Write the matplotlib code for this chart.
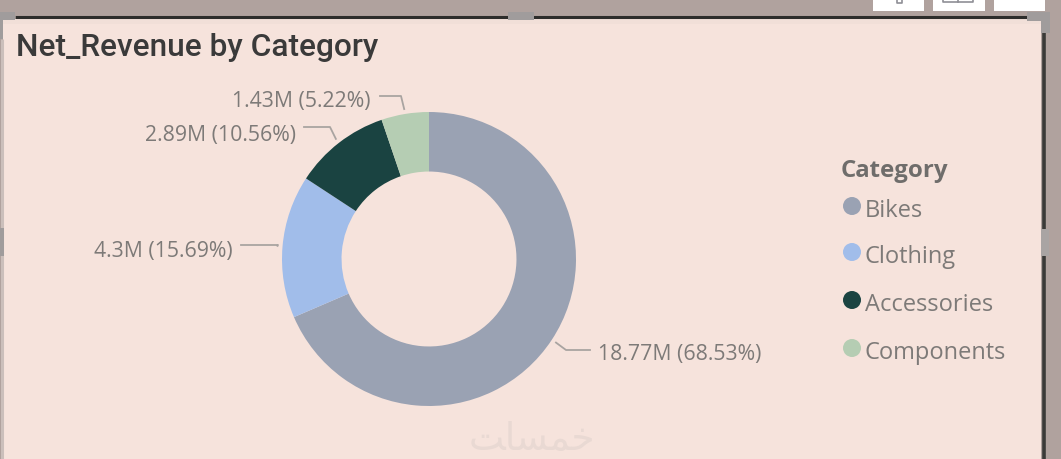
import numpy as np
import matplotlib
matplotlib.use("Agg")
import matplotlib.pyplot as plt
from matplotlib.patches import Rectangle, Circle

categories = ["Bikes", "Clothing", "Accessories", "Components"]
revenue = [18.77, 4.30, 2.89, 1.43]
labels = ["18.77M (68.53%)", "4.3M (15.69%)", "2.89M (10.56%)", "1.43M (5.22%)"]
colors = ["#9aa2b3", "#a1bdea", "#1a4341", "#b5cdb3"]
title = "Net_Revenue by Category"
legend_title = "Category"
watermark = "\uFE96\uFE8E\uFEB4\uFEE4\uFEA7"

W, H = 1061, 460
fig = plt.figure(figsize=(W / 100, H / 100), dpi=100, facecolor="#b0a29e")

bg = fig.add_axes([0, 0, 1, 1])
bg.set_xlim(0, W)
bg.set_ylim(H, 0)
bg.axis("off")
grey = "#a09c9c"
bg.add_patch(Rectangle((3, 17), 1038, 443, fc="#f6e3dc", ec="none", zorder=1))
bg.add_patch(Rectangle((3, 19), 1038, 6, fc="#f1dfd8", ec="none", zorder=1.1))
bg.plot([15, 1027], [17.5, 17.5], color="#2d2d2b", lw=2.2, zorder=2, solid_capstyle="butt")
bg.plot([1043.5, 1043.5], [34, 460], color="#3a3a38", lw=2.6, zorder=2, solid_capstyle="butt")
bg.plot([1.5, 1.5], [40, 460], color="#cbbfbb", lw=2.2, zorder=2, solid_capstyle="butt")
# corner and edge handles of the selected visual
bg.add_patch(Rectangle((1027, 13), 23, 9, fc=grey, ec="none", zorder=3))
bg.add_patch(Rectangle((1041, 13), 9, 21, fc=grey, ec="none", zorder=3))
bg.add_patch(Rectangle((0, 13), 15, 8, fc=grey, ec="none", zorder=3))
bg.add_patch(Rectangle((0, 13), 3, 27, fc=grey, ec="none", zorder=3))
bg.add_patch(Rectangle((1041, 230), 8, 27, fc="#a9a4a3", ec="none", zorder=3))
bg.add_patch(Rectangle((508, 13), 26, 8, fc=grey, ec="none", zorder=3))
bg.add_patch(Rectangle((0, 229), 4, 28, fc=grey, ec="none", zorder=3))
for x0, x1 in [(873, 924), (933, 985), (994, 1045)]:
    bg.add_patch(Rectangle((x0, -2), x1 - x0, 14, fc="white", ec="none", zorder=3))
bg.plot([897, 897, 902, 902], [0, 4, 4, 0], color="#8f8f96", lw=1.2, zorder=4)
bg.plot([943, 943, 973, 973, 943], [0, 3, 3, 0, 0], color="#8f8f96", lw=1.2, zorder=4)
bg.plot([958, 958], [0, 3], color="#8f8f96", lw=1.2, zorder=4)

bg.text(16.5, 47, title, fontsize=22.8, family="Roboto", fontweight="medium",
        color="#3a3a3a", va="center", ha="left", zorder=5)
bg.text(595, 440, watermark, fontsize=27, family="DejaVu Sans", color="#e9d9d3",
        va="center", ha="right", zorder=5)

cx, cy, R = 429, 260, 147
ax = fig.add_axes([(cx - R) / W, 1 - (cy + R) / H, 2 * R / W, 2 * R / H])
ax.pie(revenue, colors=colors, startangle=90, counterclock=False, radius=1,
       wedgeprops=dict(width=0.405, linewidth=0), normalize=True)
ax.set_xlim(-1, 1)
ax.set_ylim(-1, 1)
ax.set_aspect("equal")
ax.patch.set_alpha(0)

total = sum(revenue)
cum = np.cumsum([0] + revenue)
mid = 90 - (cum[:-1] + np.array(revenue) / 2) / total * 360
elbows = [(566, 351, 590), (278, 246, 241), (330, 128, 304), (401, 97, 380)]
text_pos = [(598, 355, "left"), (233, 251, "right"), (296, 136, "right"), (371, 102, "right")]
line_c = "#a9a4a1"
for a, (ex, ey, tx), (lx, ly, ha), lab in zip(mid, elbows, text_pos, labels):
    px = cx + (R + 5) * np.cos(np.radians(a))
    py = cy - (R + 5) * np.sin(np.radians(a))
    bg.plot([px, ex, tx], [py, ey, ey], color=line_c, lw=1.3, zorder=5)
    bg.text(lx, ly, lab, fontsize=15.3, family="Open Sans", color="#7d7a78",
            va="center", ha=ha, zorder=5)

bg.text(841, 171, legend_title, fontsize=17.3, family="Open Sans", fontweight="bold",
        color="#6f6d6b", va="center", ha="left", zorder=5)
leg_y = [211, 257, 305, 353]
for name, c, y in zip(categories, colors, leg_y):
    bg.add_patch(Circle((852, y - 4), 9, fc=c, ec="none", zorder=5))
    bg.text(865, y, name, fontsize=17, family="Open Sans", color="#7d7a78",
            va="center", ha="left", zorder=5)

fig.savefig("out.png", dpi=100, facecolor=fig.get_facecolor())
